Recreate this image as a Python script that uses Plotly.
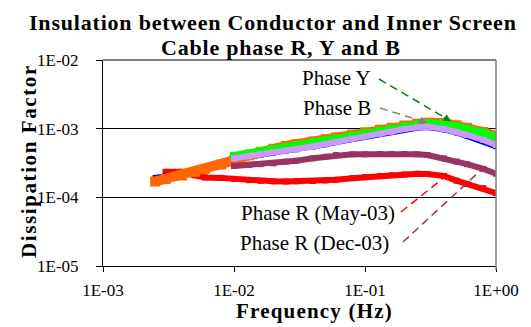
import plotly.graph_objects as go

# ---- data -----------------------------------------------------------------
freq_full = [0.0025, 0.003, 0.004, 0.005, 0.006, 0.008, 0.01, 0.013, 0.016, 0.02,
             0.025, 0.03, 0.04, 0.05, 0.06, 0.08, 0.1, 0.13, 0.16, 0.2, 0.25, 0.3,
             0.4, 0.5, 0.6, 0.8, 1.0]
freq_red = [0.003, 0.004, 0.005, 0.006, 0.008, 0.01, 0.013, 0.016, 0.02,
            0.025, 0.03, 0.04, 0.05, 0.06, 0.08, 0.1, 0.13, 0.16, 0.2, 0.25, 0.3,
            0.4, 0.5, 0.6, 0.8, 1.0]
freq_hi = [0.01, 0.013, 0.016, 0.02, 0.025, 0.03, 0.04, 0.05, 0.06, 0.08, 0.1,
           0.13, 0.16, 0.2, 0.25, 0.3, 0.4, 0.5, 0.6, 0.8, 1.0]

df_orange = [1.70e-4, 1.85e-4, 2.08e-4, 2.34e-4, 2.60e-4, 3.00e-4, 3.45e-4, 4.10e-4,
             4.60e-4, 5.10e-4, 5.60e-4, 5.95e-4, 6.50e-4, 7.00e-4, 7.45e-4, 8.20e-4,
             8.85e-4, 9.65e-4, 1.03e-3, 1.11e-3, 1.18e-3, 1.22e-3, 1.21e-3, 1.12e-3,
             1.03e-3, 8.95e-4, 7.80e-4]
df_blue = [1.95e-4, 2.05e-4, 2.25e-4, 2.45e-4, 2.65e-4, 3.00e-4, 3.45e-4, 3.85e-4,
           4.10e-4, 4.40e-4, 4.67e-4, 4.92e-4, 5.35e-4, 5.84e-4, 6.26e-4, 6.95e-4,
           7.50e-4, 8.22e-4, 8.78e-4, 9.60e-4, 1.015e-3, 1.04e-3, 9.60e-4, 8.65e-4,
           7.75e-4, 6.50e-4, 5.45e-4]
df_phase_y = [4.00e-4, 4.37e-4, 4.68e-4, 5.06e-4, 5.46e-4, 5.78e-4, 6.35e-4, 6.84e-4,
              7.26e-4, 7.98e-4, 8.59e-4, 9.37e-4, 1.005e-3, 1.086e-3, 1.15e-3, 1.19e-3,
              1.18e-3, 1.09e-3, 9.95e-4, 8.67e-4, 7.57e-4]
df_phase_b = [3.70e-4, 3.97e-4, 4.22e-4, 4.54e-4, 4.81e-4, 5.06e-4, 5.50e-4, 6.00e-4,
              6.44e-4, 7.14e-4, 7.71e-4, 8.45e-4, 9.03e-4, 9.86e-4, 1.044e-3, 1.07e-3,
              9.93e-4, 8.97e-4, 8.09e-4, 6.84e-4, 5.78e-4]
df_r_dec03 = [2.86e-4, 2.97e-4, 3.04e-4, 3.13e-4, 3.31e-4, 3.42e-4, 3.70e-4, 3.90e-4,
              4.13e-4, 4.23e-4, 4.23e-4, 4.28e-4, 4.28e-4, 4.28e-4, 4.23e-4, 4.13e-4,
              3.70e-4, 3.31e-4, 3.04e-4, 2.60e-4, 2.21e-4]
df_r_may03 = [2.35e-4, 2.35e-4, 2.10e-4, 1.95e-4, 1.92e-4, 1.85e-4, 1.78e-4, 1.74e-4,
              1.71e-4, 1.70e-4, 1.71e-4, 1.73e-4, 1.76e-4, 1.80e-4, 1.90e-4, 1.97e-4,
              2.05e-4, 2.10e-4, 2.15e-4, 2.20e-4, 2.18e-4, 2.05e-4, 1.75e-4, 1.57e-4,
              1.36e-4, 1.15e-4]

x_tickvals = [1e-3, 1e-2, 1e-1, 1e0]
x_ticktext = ["1E-03", "1E-02", "1E-01", "1E+00"]
y_tickvals = [1e-5, 1e-4, 1e-3, 1e-2]
y_ticktext = ["1E-05", "1E-04", "1E-03", "1E-02"]

# ---- figure geometry (pixels) ---------------------------------------------
W, H = 531, 327
L, R, T, B = 103, 496, 60, 266


def px(xp):
    return (xp - L) / (R - L)


def py(yp):
    return (B - yp) / (B - T)


SERIF = "Liberation Serif"

fig = go.Figure()


def band(x, y, color, width, name):
    fig.add_trace(go.Scatter(
        x=x, y=y, name=name, mode="lines+markers",
        line=dict(color=color, width=width),
        marker=dict(symbol="square", size=width, color=color),
        hoverinfo="x+y+name", showlegend=False))


band(freq_red, df_r_may03, "#FF0000", 6, "Phase R (May-03)")
band(freq_full, df_blue, "#0000FF", 5, "Phase B (2)")
band(freq_full, df_orange, "#FF6600", 10, "Phase Y (2)")
band(freq_hi, df_phase_y, "#00FF00", 8, "Phase Y")
band(freq_hi, df_phase_b, "#CC99FF", 6, "Phase B")
band(freq_hi, df_r_dec03, "#993366", 6, "Phase R (Dec-03)")

fig.update_xaxes(
    type="log", range=[-3, 0], tickvals=x_tickvals, ticktext=x_ticktext,
    showline=True, linecolor="black", linewidth=1, ticks="outside", ticklen=5,
    tickcolor="black", showgrid=False, zeroline=False,
    tickfont=dict(family=SERIF, size=17, color="black"), ticklabelstandoff=4)
fig.update_yaxes(
    type="log", range=[-5, -2], tickvals=y_tickvals, ticktext=y_ticktext,
    showline=True, linecolor="black", linewidth=1, ticks="outside", ticklen=6,
    tickcolor="black", showgrid=True, gridcolor="black", gridwidth=1,
    zeroline=False,
    tickfont=dict(family=SERIF, size=17, color="black"), ticklabelstandoff=14)

shapes = [
    # top and right frame
    dict(type="line", xref="paper", yref="paper", x0=0, x1=1, y0=1, y1=1,
         line=dict(color="black", width=1)),
    dict(type="line", xref="paper", yref="paper", x0=1, x1=1, y0=py(270), y1=1,
         line=dict(color="#808080", width=1.5)),
]


def leader(x0, y0, x1, y1, color):
    shapes.append(dict(type="line", xref="paper", yref="paper",
                       x0=px(x0), y0=py(y0), x1=px(x1), y1=py(y1),
                       line=dict(color=color, width=1.5, dash="8px,5px")))


leader(379, 79, 449, 120, "#008000")
leader(380, 108, 425, 122, "#808080")
leader(401, 212, 446, 176, "#FF0000")
leader(403, 242, 480, 171, "#993366")

annotations = []


def label(text, xr, yc, size=21):
    annotations.append(dict(
        text=text, xref="paper", yref="paper", x=px(xr), y=py(yc),
        xanchor="right", yanchor="middle", showarrow=False,
        font=dict(family=SERIF, size=size, color="black")))


label("Phase Y", 373, 78)
label("Phase B", 373, 108)
label("Phase R (May-03)", 397, 213)
label("Phase R (Dec-03)", 391, 243)


def head(xt, yt, dx, dy, color):
    annotations.append(dict(
        text="", xref="paper", yref="paper", x=px(xt), y=py(yt),
        ax=dx, ay=dy, showarrow=True, arrowhead=2, arrowsize=1,
        arrowwidth=1.5, arrowcolor=color))


head(451, 121.5, -8, -5, "#008000")
head(427, 123, -8, -3, "#808080")


def bold_text(text, xc, yc, size, spacing, angle=0):
    annotations.append(dict(
        text='<span style="letter-spacing:%.1fpx"><b>%s</b></span>' % (spacing, text),
        xref="paper", yref="paper",
        x=px(xc), y=py(yc), xanchor="center", yanchor="middle",
        showarrow=False, textangle=angle,
        font=dict(family=SERIF, size=size, color="black")))


bold_text("Insulation between Conductor and Inner Screen", 273, 22, 22, 0.8)
bold_text("Cable phase R, Y and B", 281, 47, 22, 0.8)
bold_text("Frequency (Hz)", 314, 311, 21, 1.2)
bold_text("Dissipation Factor", 29, 161, 21, 1.6, angle=-90)

fig.update_layout(
    width=W, height=H,
    margin=dict(l=L, r=W - R, t=T, b=H - B),
    paper_bgcolor="white", plot_bgcolor="white",
    shapes=shapes, annotations=annotations,
    font=dict(family=SERIF, color="black"),
)

fig.write_html("out.html")
